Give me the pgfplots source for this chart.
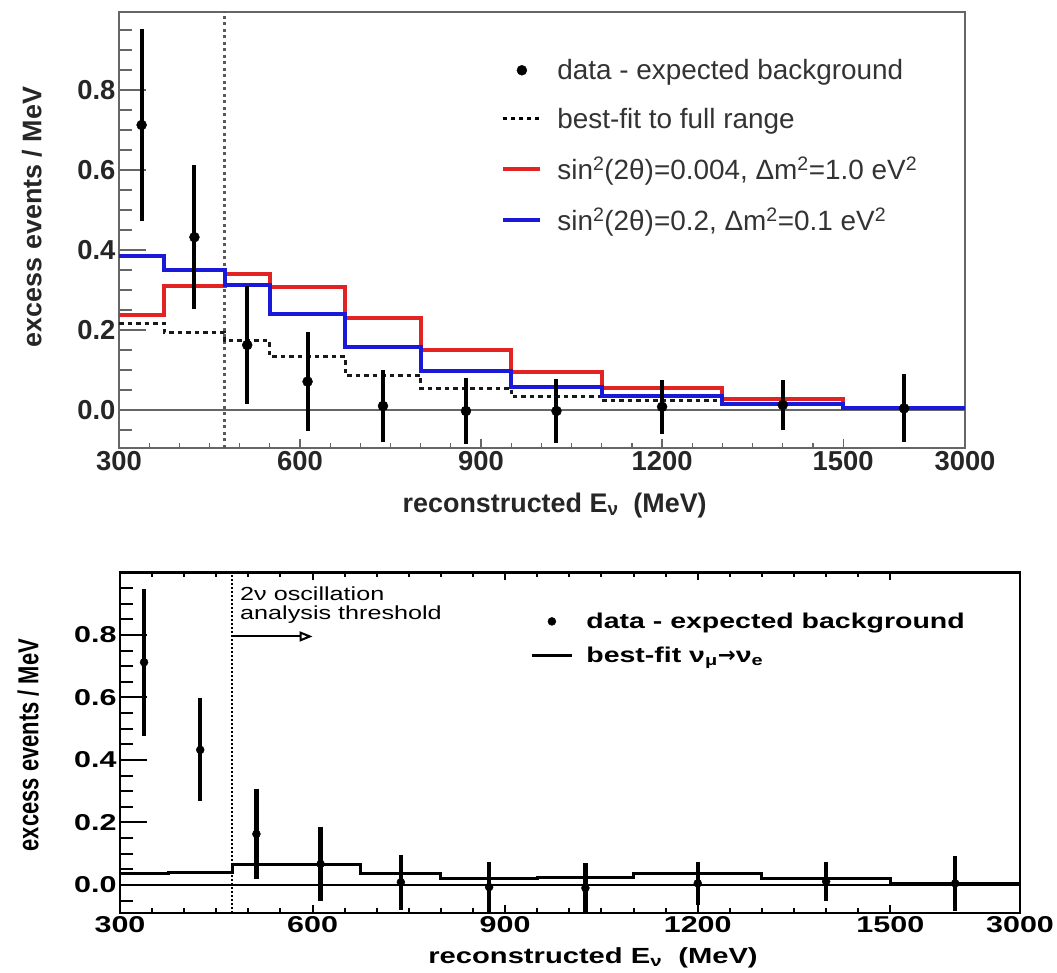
\documentclass[border=0pt]{standalone}
\usepackage{pgfplots}
\pgfplotsset{compat=1.18}
\usepackage{pgfplotstable}
\usetikzlibrary{arrows.meta}
\usepackage{fontspec}
\setmainfont{Liberation Sans}
\newfontfamily\widefont[FakeStretch=1.33]{Liberation Sans}
\newfontfamily\narrowfont[FakeStretch=0.76]{Liberation Sans}
\newfontfamily\dejavu{DejaVu Sans}
\definecolor{rootred}{RGB}{225,35,35}
\definecolor{rootblue}{RGB}{25,25,215}

% x is a display coordinate: equal to E for E<=1500 MeV, 1500-3000 MeV compressed into 1500-1702
\pgfplotstableread{
x     red     blue    fit
300   0.2375  0.385   0.217
375   0.310   0.350   0.194
475   0.340   0.3125  0.173
550   0.308   0.240   0.133
675   0.229   0.158   0.086
800   0.150   0.098   0.054
950   0.096   0.058   0.033
1100  0.056   0.035   0.0225
1300  0.0275  0.015   0.0125
1500  0.004   0.004   0.004
1702  0.004   0.004   0.004
}\tophist

\pgfplotstableread{
x      y        e
337.5  0.7125   0.240
425    0.432    0.180
512.5  0.1625   0.148
612.5  0.071    0.123
737.5  0.010    0.090
875    -0.0025  0.082
1025   -0.0025  0.081
1200   0.008    0.067
1400   0.0125   0.062
1601   0.004    0.085
}\topdata

\pgfplotstableread{
x     fit
300   0.035
375   0.040
475   0.065
550   0.065
675   0.038
800   0.020
950   0.025
1100  0.035
1300  0.022
1500  0.005
1702  0.005
}\bothist

\pgfplotstableread{
x      y        e
337.5  0.7125   0.235
425    0.432    0.165
512.5  0.163    0.144
612.5  0.067    0.118
737.5  0.0085   0.088
875    -0.007   0.080
1025   -0.010   0.080
1200   0.005    0.068
1400   0.011    0.062
1601   0.005    0.088
}\botdata

\begin{document}
\begin{tikzpicture}
\useasboundingbox (0bp,0bp) rectangle (1057bp,973bp);

% ---------------- top panel ----------------
\begin{axis}[
  at={(119bp,525bp)}, anchor=south west,
  width=846bp, height=436bp, scale only axis,
  xmin=300, xmax=1702, ymin=-0.095, ymax=0.995,
  xtick={300,600,900,1200,1500,1702},
  xticklabels={300,600,900,1200,1500,3000},
  minor xtick={350,400,450,500,550,650,700,750,800,850,950,1000,1050,1100,1150,1250,1300,1350,1400,1450},
  ytick={0,0.2,0.4,0.6,0.8},
  yticklabels={0.0,0.2,0.4,0.6,0.8},
  minor ytick={-0.05,0.05,0.1,0.15,0.25,0.3,0.35,0.45,0.5,0.55,0.65,0.7,0.75,0.85,0.9,0.95},
  xtick pos=bottom, ytick pos=left, tick align=inside,
  xtick style={/pgfplots/major tick length=9bp,/pgfplots/minor tick length=5bp,black!60,line width=1.2bp},
  ytick style={/pgfplots/major tick length=27bp,/pgfplots/minor tick length=13bp,black!60,line width=1.2bp},
  axis line style={black!60,line width=1.5bp},
  tick label style={font=\fontsize{27.5}{30}\selectfont\bfseries,text=black!85},
  xlabel={reconstructed E\textsubscript{ν}~~(MeV)},
  ylabel={excess events / MeV},
  label style={font=\fontsize{27}{30}\selectfont\bfseries,text=black!85},
  xlabel style={at={(axis description cs:0.515,-0.131)},anchor=center},
  ylabel style={at={(axis description cs:-0.103,0.53)},anchor=center},
  legend image code/.code={\draw[#1] (0bp,0bp) -- (37bp,0bp);},
  legend style={at={(axis description cs:0.452,0.8935)},anchor=north west,
    draw=none,fill=none,inner sep=0pt,outer sep=0pt,
    font=\fontsize{28}{32}\selectfont,text=black!80,
    row sep=25bp,column sep=14bp,nodes={inner sep=1bp}},
  legend cell align=left,
  clip=true,
]
\addplot[forget plot,black!60,line width=1.5bp] coordinates {(300,0) (1702,0)};
\addplot[forget plot,black!65,line width=3bp,dash pattern=on 3bp off 3.5bp] coordinates {(475,-0.095) (475,0.995)};
\addplot[forget plot,const plot,black!90,line width=3bp,dash pattern=on 4.5bp off 4bp] table[x=x,y=fit]{\tophist};
\addplot[forget plot,const plot,rootred,line width=4bp] table[x=x,y=red]{\tophist};
\addplot[forget plot,const plot,rootblue,line width=4bp] table[x=x,y=blue]{\tophist};
\addplot[forget plot,only marks,mark=*,mark size=5bp,black,
  error bars/.cd,y dir=both,y explicit,error mark=none,
  error bar style={line width=4bp,black}]
  table[x=x,y=y,y error=e]{\topdata};

\addlegendimage{legend image code/.code={\fill[black] (18.5bp,0bp) circle (5bp);}}
\addlegendentry{data - expected background}
\addlegendimage{black,line width=3bp,dash pattern=on 4bp off 4bp}
\addlegendentry{best-fit to full range}
\addlegendimage{rootred,line width=4bp}
\addlegendentry{sin\textsuperscript{2}(2θ)=0.004, Δm\textsuperscript{2}=1.0 eV\textsuperscript{2}}
\addlegendimage{rootblue,line width=4bp}
\addlegendentry{sin\textsuperscript{2}(2θ)=0.2, Δm\textsuperscript{2}=0.1 eV\textsuperscript{2}}
\end{axis}

% ---------------- bottom panel ----------------
\begin{axis}[
  at={(120bp,60bp)}, anchor=south west,
  width=900bp, height=340.6bp, scale only axis,
  xmin=300, xmax=1702, ymin=-0.09, ymax=1.0,
  xtick={300,600,900,1200,1500,1702},
  xticklabels={300,600,900,1200,1500,3000},
  minor xtick={350,400,450,500,550,650,700,750,800,850,950,1000,1050,1100,1150,1250,1300,1350,1400,1450},
  ytick={0,0.2,0.4,0.6,0.8},
  yticklabels={0.0,0.2,0.4,0.6,0.8},
  minor ytick={-0.05,0.05,0.1,0.15,0.25,0.3,0.35,0.45,0.5,0.55,0.65,0.7,0.75,0.85,0.9,0.95},
  xtick pos=both, ytick pos=left, tick align=inside,
  xtick style={/pgfplots/major tick length=8bp,/pgfplots/minor tick length=5bp,black,line width=2bp},
  ytick style={/pgfplots/major tick length=27bp,/pgfplots/minor tick length=13bp,black,line width=2bp},
  axis line style={black,line width=2.5bp},
  tick label style={font=\widefont\fontsize{23}{26}\selectfont\bfseries},
  xlabel={reconstructed E\textsubscript{ν}~~(MeV)},
  ylabel={excess events / MeV},
  xlabel style={font=\widefont\fontsize{22}{26}\selectfont\bfseries,
    at={(axis description cs:0.5256,-0.132)},anchor=center},
  ylabel style={font=\narrowfont\fontsize{29}{32}\selectfont\bfseries,
    at={(axis description cs:-0.102,0.493)},anchor=center},
  legend image code/.code={\draw[#1] (0bp,0bp) -- (40bp,0bp);},
  legend style={at={(axis description cs:0.456,0.884)},anchor=north west,
    draw=none,fill=none,inner sep=0pt,outer sep=0pt,
    font=\widefont\fontsize{21.5}{25}\selectfont\bfseries,
    row sep=15bp,column sep=12bp,nodes={inner sep=1bp}},
  legend cell align=left,
  clip=true,
]
\addplot[forget plot,black,line width=2bp] coordinates {(300,0) (1702,0)};
\addplot[forget plot,black,line width=2bp,dash pattern=on 2bp off 2bp] coordinates {(475,-0.09) (475,1.0)};
\addplot[forget plot,const plot,black,line width=3bp] table[x=x,y=fit]{\bothist};
\addplot[forget plot,only marks,mark=*,mark size=4bp,black,
  error bars/.cd,y dir=both,y explicit,error mark=none,
  error bar style={line width=4.5bp,black}]
  table[x=x,y=y,y error=e]{\botdata};

\draw[black,line width=2bp,-{Triangle[open,length=13bp,width=10bp,line width=2bp]}]
  (axis cs:475,0.795) -- (axis cs:600,0.795);
\node[anchor=west,align=left,inner sep=0pt,
  font=\widefont\fontsize{19}{18.75}\selectfont] at (axis cs:487,0.895)
  {2ν oscillation\\analysis threshold};

\addlegendimage{legend image code/.code={\fill[black] (20bp,0bp) circle (4bp);}}
\addlegendentry{data - expected background}
\addlegendimage{black,line width=3bp}
\addlegendentry{best-fit ν\textsubscript{μ}{\dejavu\bfseries →}ν\textsubscript{e}}
\end{axis}
\end{tikzpicture}
\end{document}
